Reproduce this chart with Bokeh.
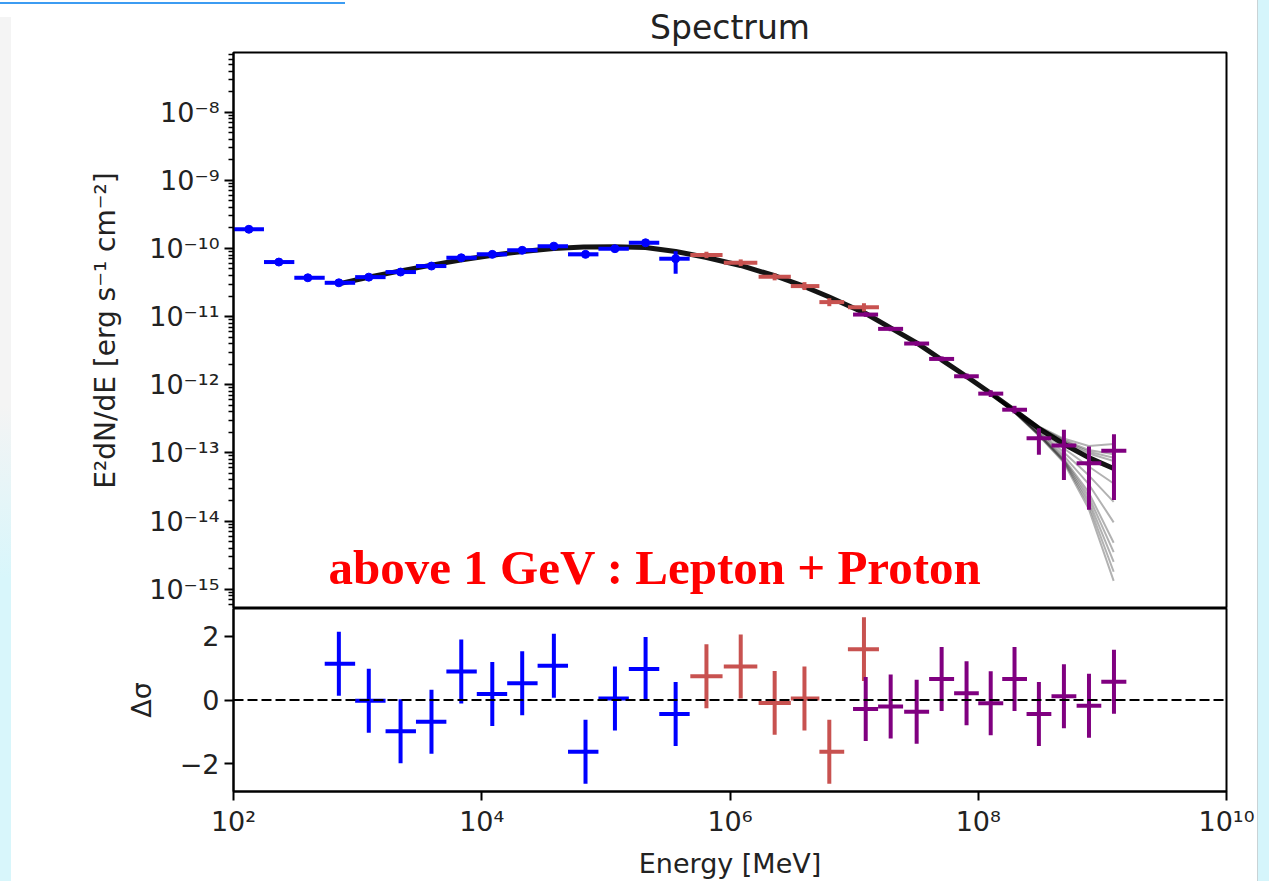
from bokeh.plotting import figure
from bokeh.layouts import column
from bokeh.models import (FixedTicker, CustomJSTickFormatter, Span, Label,
                          InlineStyleSheet, Range1d)
from bokeh.embed import file_html
from bokeh.resources import INLINE

# ---------------- data ----------------
# Fermi-LAT-like (blue) points, energies in MeV, E^2 dN/dE in erg s^-1 cm^-2
blue_E = [133, 232, 397, 706, 1230, 2218, 3936, 6839, 12160, 21180, 38110,
          68550, 118300, 208900, 364800]
blue_Emin = [100, 176, 309, 543, 955, 1679, 2951, 5188, 9120, 16030, 28180,
             49550, 87100, 153100, 269200]
blue_Emax = [176, 309, 543, 955, 1679, 2951, 5188, 9120, 16030, 28180, 49550,
             87100, 153100, 269200, 473200]
blue_F = [1.91e-10, 6.31e-11, 3.71e-11, 3.13e-11, 3.79e-11, 4.50e-11, 5.51e-11,
          7.30e-11, 8.18e-11, 9.38e-11, 1.08e-10, 8.18e-11, 9.91e-11, 1.21e-10,
          7.06e-11]
blue_F_lo = [1.75e-10, 5.8e-11, 3.4e-11, 2.9e-11, 3.5e-11, 4.15e-11, 5.1e-11,
             6.7e-11, 7.5e-11, 8.6e-11, 9.9e-11, 7.4e-11, 9.0e-11, 1.09e-10,
             4.25e-11]
blue_F_hi = [2.08e-10, 6.85e-11, 4.05e-11, 3.4e-11, 4.1e-11, 4.9e-11, 6.0e-11,
             7.95e-11, 8.9e-11, 1.02e-10, 1.18e-10, 9.0e-11, 1.09e-10, 1.34e-10,
             9.1e-11]

# red points
red_E = [6.46e5, 1.22e6, 2.29e6, 3.98e6, 6.31e6, 1.20e7]
red_Emin = [4.79e5, 8.91e5, 1.70e6, 3.09e6, 5.25e6, 8.91e6]
red_Emax = [8.71e5, 1.66e6, 3.09e6, 5.25e6, 8.32e6, 1.585e7]
red_F = [8.0e-11, 6.17e-11, 3.84e-11, 2.80e-11, 1.63e-11, 1.37e-11]
red_F_lo = [7.2e-11, 5.5e-11, 3.4e-11, 2.45e-11, 1.42e-11, 1.19e-11]
red_F_hi = [8.9e-11, 6.9e-11, 4.3e-11, 3.2e-11, 1.86e-11, 1.57e-11]

# purple points
purple_E = [1.24e7, 1.97e7, 3.19e7, 5.07e7, 8.05e7, 1.26e8, 1.96e8, 3.08e8,
            4.90e8, 7.80e8, 1.24e9]
purple_Emin = [9.8e6, 1.56e7, 2.53e7, 4.02e7, 6.39e7, 1.0e8, 1.56e8, 2.45e8,
               3.89e8, 6.2e8, 9.8e8]
purple_Emax = [1.56e7, 2.48e7, 4.02e7, 6.39e7, 1.01e8, 1.59e8, 2.47e8, 3.88e8,
               6.17e8, 9.8e8, 1.56e9]
purple_F = [1.07e-11, 6.6e-12, 4.02e-12, 2.39e-12, 1.33e-12, 7.4e-13, 4.3e-13,
            1.64e-13, 1.28e-13, 7.06e-14, 1.07e-13]
purple_F_lo = [9.9e-12, 6.1e-12, 3.7e-12, 2.2e-12, 1.21e-12, 6.6e-13, 3.8e-13,
               9.4e-14, 4.0e-14, 1.46e-14, 2.04e-14]
purple_F_hi = [1.16e-11, 7.1e-12, 4.35e-12, 2.6e-12, 1.46e-12, 8.3e-13, 4.9e-13,
               2.3e-13, 2.19e-13, 1.24e-13, 1.88e-13]

# residuals (delta sigma); blue residuals only for the fitted points (4th on)
blue_res_first = 3
blue_res = [1.13, -0.02, -0.98, -0.68, 0.89, 0.19, 0.52, 1.07, -1.62, 0.05,
            0.97, -0.44]
red_res = [0.74, 1.05, -0.09, 0.05, -1.62, 1.59]
purple_res = [-0.28, -0.20, -0.37, 0.66, 0.21, -0.10, 0.66, -0.44, 0.12,
              -0.18, 0.57]
res_err = 1.0

# best-fit model curve
model_E = [702, 1247, 2218, 3936, 6745, 12220, 21330, 37930, 66070, 115300,
           208900, 364800, 635300, 1.216e6, 2.328e6, 3.917e6, 6.237e6,
           1.239e7, 1.968e7, 3.192e7, 5.070e7, 8.054e7, 1.259e8, 1.963e8,
           3.069e8, 4.875e8, 7.762e8, 1.233e9]
model_F = [3.02e-11, 3.80e-11, 4.68e-11, 5.69e-11, 6.76e-11, 7.94e-11,
           9.02e-11, 1.00e-10, 1.047e-10, 1.059e-10, 1.035e-10, 9.02e-11,
           7.41e-11, 5.62e-11, 3.94e-11, 2.79e-11, 1.95e-11, 1.11e-11,
           6.84e-12, 4.12e-12, 2.32e-12, 1.32e-12, 7.50e-13, 4.17e-13,
           2.29e-13, 1.35e-13, 8.51e-14, 5.89e-14]

# posterior sample curves in the tail (where they spread out)
tail_E = [1.259e8, 1.963e8, 3.069e8, 4.875e8, 7.762e8, 1.233e9]
sample_F = [
    [7.53e-13, 4.22e-13, 2.34e-13, 1.45e-13, 9.77e-14, 7.59e-14],
    [7.59e-13, 4.27e-13, 2.40e-13, 1.55e-13, 1.10e-13, 9.55e-14],
    [7.62e-13, 4.32e-13, 2.45e-13, 1.62e-13, 1.26e-13, 1.35e-13],
    [7.55e-13, 4.25e-13, 2.37e-13, 1.50e-13, 1.04e-13, 8.5e-14],
    [7.46e-13, 4.12e-13, 2.19e-13, 1.17e-13, 6.31e-14, 3.55e-14],
    [7.41e-13, 4.07e-13, 2.09e-13, 1.02e-13, 4.68e-14, 1.91e-14],
    [7.41e-13, 4.03e-13, 2.00e-13, 9.12e-14, 3.47e-14, 9.55e-15],
    [7.38e-13, 3.98e-13, 1.93e-13, 8.32e-14, 2.63e-14, 4.79e-15],
    [7.36e-13, 3.96e-13, 1.90e-13, 8.0e-14, 2.3e-14, 3.5e-15],
    [7.33e-13, 3.94e-13, 1.86e-13, 7.76e-14, 2.00e-14, 2.51e-15],
    [7.31e-13, 3.91e-13, 1.83e-13, 7.5e-14, 1.75e-14, 1.8e-15],
    [7.30e-13, 3.89e-13, 1.80e-13, 7.24e-14, 1.51e-14, 1.32e-15],
]

# axis ticks
y_major = [1e-15, 1e-14, 1e-13, 1e-12, 1e-11, 1e-10, 1e-9, 1e-8]
x_major = [1e2, 1e4, 1e6, 1e8, 1e10]
res_ticks = [-2, 0, 2]

# ---------------- styling constants ----------------
BLUE = "#0000ff"
RED = "#c85250"
PURPLE = "#800080"
TXT = "#222222"
FONT = "DejaVu Sans"

sup_code = """
const sup = {"-": "\\u207b", "0": "\\u2070", "1": "\\u00b9", "2": "\\u00b2",
             "3": "\\u00b3", "4": "\\u2074", "5": "\\u2075", "6": "\\u2076",
             "7": "\\u2077", "8": "\\u2078", "9": "\\u2079"};
const e = Math.round(Math.log10(tick));
let s = "";
for (const c of String(e)) { s += sup[c]; }
return "10" + s;
"""
minus_code = """
if (tick < 0) { return "\\u2212" + String(Math.abs(tick)); }
return String(tick);
"""

x_range = Range1d(1e2, 1e10)

def style_axis(ax, label_size="27px"):
    ax.axis_line_width = 2
    ax.axis_line_color = "black"
    ax.major_tick_line_width = 2
    ax.minor_tick_line_width = 1.5
    ax.major_tick_out = 9
    ax.major_tick_in = 0
    ax.minor_tick_out = 5
    ax.minor_tick_in = 0
    ax.major_label_text_font = FONT
    ax.major_label_text_font_size = "27px"
    ax.major_label_text_color = TXT
    ax.axis_label_text_font = FONT
    ax.axis_label_text_font_size = label_size
    ax.axis_label_text_font_style = "normal"
    ax.axis_label_text_color = TXT

# ---------------- main spectrum panel ----------------
p1 = figure(width=1269, height=608, x_axis_type="log", y_axis_type="log",
            x_range=x_range, y_range=Range1d(5.2e-16, 7.5e-8),
            x_axis_location=None, output_backend="svg", toolbar_location=None,
            title="Spectrum", min_border_left=233, min_border_right=43,
            min_border_top=52, min_border_bottom=0)
p1.title.align = "center"
p1.title.vertical_align = "middle"
p1.title.text_font = FONT
p1.title.text_font_size = "33px"
p1.title.text_font_style = "normal"
p1.title.text_color = TXT
p1.grid.visible = False
p1.outline_line_color = "black"
p1.outline_line_width = 2
p1.border_fill_color = None
p1.background_fill_color = "white"

minor_y = [k * 10.0 ** n for n in range(-16, -7) for k in range(2, 10)]
p1.yaxis.ticker = FixedTicker(ticks=y_major, minor_ticks=minor_y)
p1.yaxis.formatter = CustomJSTickFormatter(code=sup_code)
p1.yaxis.axis_label = "E\u00b2dN/dE [erg s\u207b\u00b9 cm\u207b\u00b2]"
style_axis(p1.yaxis[0], label_size="28px")
p1.yaxis.axis_label_standoff = 24

# model curve and samples
p1.multi_line(xs=[tail_E] * len(sample_F), ys=sample_F, line_color="black",
              line_alpha=0.3, line_width=2)
p1.line(model_E, model_F, line_color="black", line_width=5, line_alpha=0.92)

def draw_points(p, E, Emin, Emax, F, Flo, Fhi, color, lw=4):
    p.segment(x0=Emin, x1=Emax, y0=F, y1=F, line_color=color, line_width=lw)
    p.segment(x0=E, x1=E, y0=Flo, y1=Fhi, line_color=color, line_width=lw)

draw_points(p1, blue_E, blue_Emin, blue_Emax, blue_F, blue_F_lo, blue_F_hi, BLUE)
p1.scatter(blue_E, blue_F, size=8, color=BLUE)
draw_points(p1, red_E, red_Emin, red_Emax, red_F, red_F_lo, red_F_hi, RED)
draw_points(p1, purple_E, purple_Emin, purple_Emax, purple_F, purple_F_lo,
            purple_F_hi, PURPLE)

p1.add_layout(Label(x=583, y=2.1e-15, text="above 1 GeV : Lepton + Proton",
                    text_font="Liberation Serif", text_font_style="bold",
                    text_font_size="49px", text_color="#ff0000",
                    text_baseline="alphabetic", text_align="left"))

# ---------------- residual panel ----------------
p2 = figure(width=1269, height=273, x_axis_type="log", x_range=x_range,
            y_range=Range1d(-2.86, 2.86), output_backend="svg",
            toolbar_location=None, min_border_left=233, min_border_right=43,
            min_border_top=0, min_border_bottom=88)
p2.grid.visible = False
p2.outline_line_color = "black"
p2.outline_line_width = 2
p2.border_fill_color = None
p2.background_fill_color = "white"

p2.xaxis.ticker = FixedTicker(ticks=x_major, minor_ticks=[])
p2.xaxis.formatter = CustomJSTickFormatter(code=sup_code)
p2.xaxis.axis_label = "Energy [MeV]"
style_axis(p2.xaxis[0])
p2.xaxis.axis_label_standoff = 8

p2.yaxis.ticker = FixedTicker(ticks=res_ticks, minor_ticks=[])
p2.yaxis.formatter = CustomJSTickFormatter(code=minus_code)
p2.yaxis.axis_label = "\u0394\u03c3"
style_axis(p2.yaxis[0])
p2.yaxis.axis_label_standoff = 20

p2.add_layout(Span(location=0, dimension="width", line_color="black",
                   line_width=2, line_dash="10 4"))

def draw_res(p, E, Emin, Emax, R, color, lw=4):
    lo = [r - res_err for r in R]
    hi = [r + res_err for r in R]
    p.segment(x0=Emin, x1=Emax, y0=R, y1=R, line_color=color, line_width=lw)
    p.segment(x0=E, x1=E, y0=lo, y1=hi, line_color=color, line_width=lw)

b0 = blue_res_first
draw_res(p2, blue_E[b0:], blue_Emin[b0:], blue_Emax[b0:], blue_res, BLUE)
draw_res(p2, red_E, red_Emin, red_Emax, red_res, RED)
draw_res(p2, purple_E, purple_Emin, purple_Emax, purple_res, PURPLE)

css = """
:host {
  background:
    linear-gradient(#3c9cf2, #3c9cf2) 0px 2px / 345px 2px no-repeat,
    linear-gradient(#c9d3d6, #c9d3d6) 1257px 0px / 1px 881px no-repeat,
    linear-gradient(#d5f5fb, #d5f5fb) 1258px 0px / 11px 881px no-repeat,
    linear-gradient(to bottom, #f4f4f4 0%, #f4f4f4 45%, #d8f6fb 65%, #d8f6fb 100%) 0px 17px / 11px 864px no-repeat,
    #ffffff;
}
"""
layout = column(p1, p2, spacing=0, stylesheets=[InlineStyleSheet(css=css)])

open("out.html", "w").write(file_html(layout, INLINE))
